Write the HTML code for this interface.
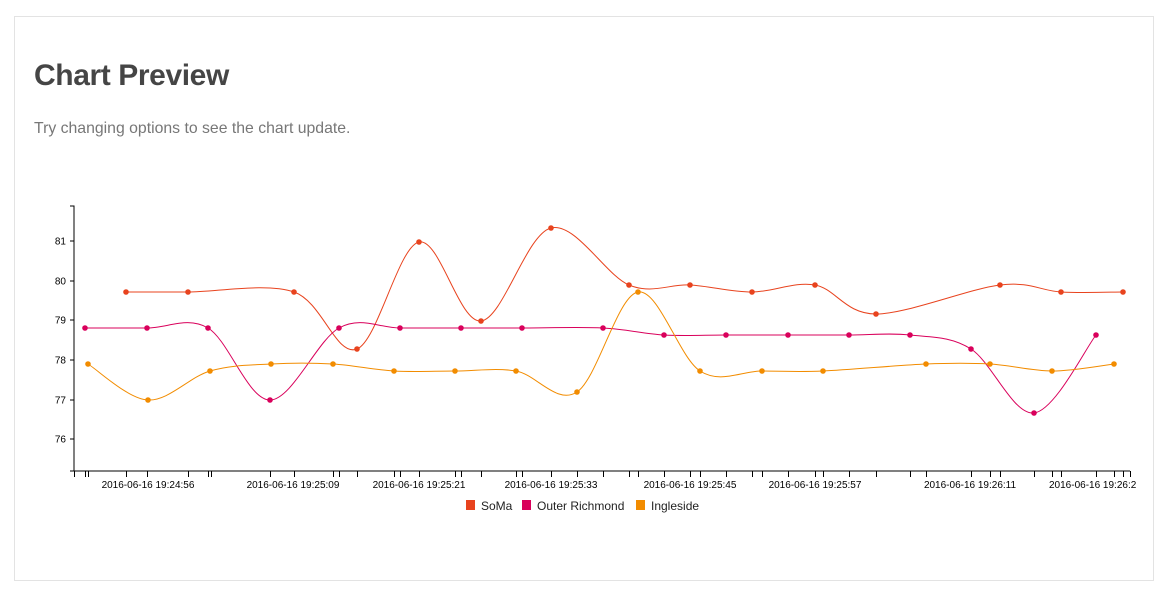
<!DOCTYPE html>
<html><head><meta charset="utf-8">
<style>
body{margin:0;background:#fff;width:1172px;height:597px;overflow:hidden;font-family:"Liberation Sans",sans-serif;}
.card{position:absolute;left:14px;top:16px;width:1140px;height:565px;border:1px solid #e3e3e3;box-sizing:border-box;}
h1{position:absolute;left:34px;top:59px;margin:0;font-size:30px;font-weight:bold;color:#454545;letter-spacing:-0.4px;}
p{position:absolute;left:34px;top:120px;margin:0;font-size:15.8px;color:#777;}
svg{position:absolute;left:0;top:0;}
</style></head><body>
<div class="card"></div>
<h1>Chart Preview</h1>
<p>Try changing options to see the chart update.</p>
<svg id="s" width="1172" height="597" font-family="Liberation Sans, sans-serif"></svg>
<script>
const s=document.getElementById('s');
let h='';
h+='<path d="M70 206H74V471H70" fill="none" stroke="#000"/>';
const yt=[[81,241],[80,281],[79,320],[78,360],[77,400],[76,439]];
yt.forEach(([v,y])=>{h+=`<line x1="70" x2="74" y1="${y}" y2="${y}" stroke="#000"/><text x="66" y="${y+3.5}" font-size="10" text-anchor="end">${v}</text>`;});
h+='<line x1="74" x2="1130" y1="471" y2="471" stroke="#000"/>';
const xt=[74,85,88,126,147,188,208,211,270,294,333,339,357,394,400,419,455,461,481,516,522,551,577,603,629,638,664,690,700,726,752,762,788,815,823,849,876,910,926,971,990,1000,1034,1052,1061,1096,1114,1123,1130];
xt.forEach(x=>{h+=`<line x1="${x+0.5}" x2="${x+0.5}" y1="471" y2="477" stroke="#000" stroke-width="1"/>`;});
const lab=[[148,'2016-06-16 19:24:56'],[293,'2016-06-16 19:25:09'],[419,'2016-06-16 19:25:21'],[551,'2016-06-16 19:25:33'],[690,'2016-06-16 19:25:45'],[815,'2016-06-16 19:25:57'],[970,'2016-06-16 19:26:11']];
lab.forEach(([x,t])=>{h+=`<text x="${x}" y="488" font-size="10" text-anchor="middle">${t}</text>`;});
h+='<text x="1049" y="488" font-size="10">2016-06-16 19:26:2</text>';
function path(p){let d=`M${p[0][0]},${p[0][1]}`;for(let i=0;i<p.length-1;i++){const p0=p[i-1]||p[i],p1=p[i],p2=p[i+1],p3=p[i+2]||p2;
const c1=[p1[0]+(p2[0]-p0[0])/6,p1[1]+(p2[1]-p0[1])/6],c2=[p2[0]-(p3[0]-p1[0])/6,p2[1]-(p3[1]-p1[1])/6];d+=`C${c1} ${c2} ${p2}`;}return d;}
const series=[
['#e8431e',[[126,292],[188,292],[294,292],[357,349],[419,242],[481,321],[551,228],[629,285],[690,285],[752,292],[815,285],[876,314],[1000,285],[1061,292],[1123,292]]],
['#d9005b',[[85,328],[147,328],[208,328],[270,400],[339,328],[400,328],[461,328],[522,328],[603,328],[664,335],[726,335],[788,335],[849,335],[910,335],[971,349],[1034,413],[1096,335]]],
['#f28c00',[[88,364],[148,400],[210,371],[271,364],[333,364],[394,371],[455,371],[516,371],[577,392],[638,292],[700,371],[762,371],[823,371],[926,364],[990,364],[1052,371],[1114,364]]]];
series.forEach(([c,p])=>{h+=`<path d="${path(p)}" fill="none" stroke="${c}" stroke-width="1"/>`;p.forEach(q=>{h+=`<circle cx="${q[0]}" cy="${q[1]}" r="2.8" fill="${c}"/>`;});});
const lg=[[466,'#e8431e','SoMa'],[522,'#d9005b','Outer Richmond'],[636,'#f28c00','Ingleside']];
lg.forEach(([x,c,t])=>{h+=`<rect x="${x}" y="500" width="9" height="10" fill="${c}"/><text x="${x+15}" y="510" font-size="12" fill="#222">${t}</text>`;});
s.innerHTML=h;
</script>
</body></html>
